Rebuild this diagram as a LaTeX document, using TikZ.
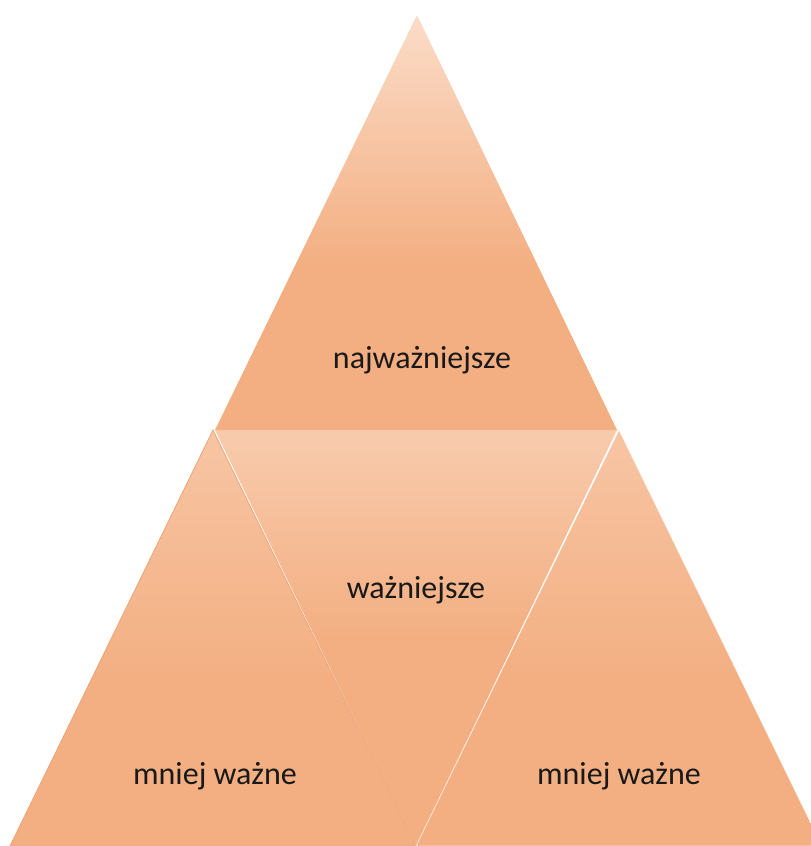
\documentclass[tikz,border=0pt]{standalone}
\usepackage{fontspec}
\setmainfont{Carlito}
\usepackage{tikz}

\definecolor{peachlight}{HTML}{FBDCC8}
\definecolor{peachmid}{HTML}{F8CBAD}
\definecolor{peachside}{HTML}{F7C5A4}
\definecolor{peachdark}{HTML}{F3AF82}
\definecolor{peachedge}{HTML}{EEA476}

\pgfdeclareverticalshading{toplevel}{100bp}{color(0bp)=(peachdark); color(45bp)=(peachdark); color(75bp)=(peachlight); color(100bp)=(peachlight)}
\pgfdeclareverticalshading{midlevel}{100bp}{color(0bp)=(peachdark); color(50bp)=(peachdark); color(75bp)=(peachmid); color(100bp)=(peachmid)}
\pgfdeclareverticalshading{sidelevel}{100bp}{color(0bp)=(peachdark); color(45bp)=(peachdark); color(75bp)=(peachside); color(100bp)=(peachside)}

\begin{document}
\begin{tikzpicture}[x=1pt,y=-1pt,
  label/.style={font=\fontsize{32}{38}\selectfont, text=black!90}]
\useasboundingbox (0,0) rectangle (811,846);
% lower row
\shade[shading=sidelevel, draw=peachedge, line width=0.8pt] (213,430) -- (10,846) -- (416,846) -- cycle;
\shade[shading=midlevel] (215,430) -- (617,430) -- (416,846) -- cycle;
\shade[shading=sidelevel, draw=white, draw opacity=0.6, line width=0.8pt] (619,430) -- (416,846) -- (822,846) -- cycle;
% top
\shade[shading=toplevel] (417,15) -- (215,430) -- (617,430) -- cycle;
\node[label] (top) at (422,360) {najważniejsze};
\node[label] (mid) at (416,590) {ważniejsze};
\node[label] (left) at (215,776) {mniej ważne};
\node[label] (right) at (619,776) {mniej ważne};
\end{tikzpicture}
\end{document}
